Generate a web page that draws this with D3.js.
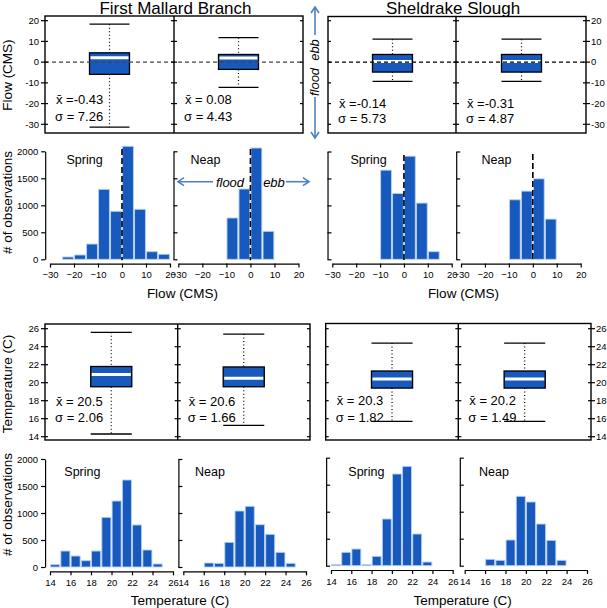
<!DOCTYPE html>
<html>
<head>
<meta charset="utf-8">
<script src="https://cdn.jsdelivr.net/npm/d3@7"></script>
<style>
body { margin: 0; background: #fff; }
svg { font-family: "Liberation Sans", Arial, sans-serif; }
</style>
</head>
<body>
<script>
// ---- data ----
const flowBins = [-25, -20, -15, -10, -5, 0, 5, 10, 15]   // bin starts, width 5
const fmbSpringFlow = [43, 80, 283, 1296, 889, 2093, 926, 141, 93]
const fmbNeapFlow = [0, 0, 0, 765, 1302, 2061, 518, 0, 0]
const ssSpringFlow = [0, 0, 0, 1654, 1222, 1913, 1043, 141, 0]
const ssNeapFlow = [0, 0, 0, 1104, 1265, 1493, 746, 0, 0]

const tempBins = [14, 15, 16, 17, 18, 19, 20, 21, 22, 23, 24] // bin starts, width 1
const fmbSpringTemp = [43, 296, 204, 117, 296, 920, 1222, 1611, 778, 315, 56]
const fmbNeapTemp = [0, 0, 74, 68, 457, 1037, 1124, 783, 605, 272, 68]
const ssSpringTemp = [22, 248, 309, 22, 174, 865, 1698, 1840, 587, 68, 0]
const ssNeapTemp = [0, 0, 118, 100, 476, 1285, 1180, 772, 470, 100, 0]

// boxplots: [lower whisker, q1, median, q3, upper whisker]
const fmbFlowBoxes = [[-31.4, -5.9, 2.1, 4.5, 18.3], [-12.2, -3.5, 2.0, 3.7, 11.8]]
const ssFlowBoxes = [[-9.3, -4.8, 0.3, 3.7, 11.1], [-9.3, -4.8, 0.3, 3.7, 11.1]]
const fmbTempBoxes = [[14.3, 19.55, 20.9, 21.8, 25.6], [15.25, 19.55, 20.5, 21.75, 25.4]]
const ssTempBoxes = [[15.7, 19.4, 20.4, 21.3, 24.4], [15.7, 19.4, 20.4, 21.3, 24.4]]

const fmbFlowMeans = [-0.43, 0.08], fmbFlowSd = [7.26, 4.43]
const ssFlowMeans = [-0.14, -0.31], ssFlowSd = [5.73, 4.87]
const fmbTempMeans = [20.5, 20.6], fmbTempSd = [2.06, 1.66]
const ssTempMeans = [20.3, 20.2], ssTempSd = [1.82, 1.49]

const flowTicks = [-30, -20, -10, 0, 10, 20]
const tempTicks = [14, 16, 18, 20, 22, 24, 26]
const countTicks = [0, 500, 1000, 1500, 2000]
const tideLabels = ["Spring", "Neap"]

const blue = "#1759bd"
const arrowBlue = "#4d80c4"

const svg = d3.select("body").append("svg").attr("width", 607).attr("height", 608)

// titles
svg.append("text").attr("x", 175.5).attr("y", 14).attr("text-anchor", "middle")
    .attr("font-size", 17).text("First Mallard Branch")
svg.append("text").attr("x", 453).attr("y", 14).attr("text-anchor", "middle")
    .attr("font-size", 17).text("Sheldrake Slough")

function vlabel(text, x, y) {
    svg.append("text").attr("transform", `translate(${x},${y}) rotate(-90)`)
        .attr("text-anchor", "middle").attr("font-size", 13.5).text(text)
}
function hlabel(text, x, y) {
    svg.append("text").attr("x", x).attr("y", y).attr("text-anchor", "middle")
        .attr("font-size", 13.5).text(text)
}

function fmtMean(m, digits) {
    return m < 0 ? "x\u0304 =" + m.toFixed(digits) : "x\u0304 = " + m.toFixed(digits)
}

// a pair of boxplot panels sharing a frame
function drawBoxPair(cfg) {
    const g = svg.append("g")
    const [x0, x1, x2] = cfg.edges
    const y = cfg.y
    const band = d3.scaleBand().domain([0, 1]).range([x0, x2]).paddingInner(0.69).paddingOuter(0.345)

    // boxes
    cfg.boxes.forEach((b, i) => {
        const bx = band(i), bw = band.bandwidth(), cx = bx + bw / 2
        g.append("line").attr("x1", cx).attr("x2", cx).attr("y1", y(b[4])).attr("y2", y(b[3]))
            .attr("stroke", "#000").attr("stroke-width", 1.2).attr("stroke-dasharray", "1,2.5")
        g.append("line").attr("x1", cx).attr("x2", cx).attr("y1", y(b[1])).attr("y2", y(b[0]))
            .attr("stroke", "#000").attr("stroke-width", 1.2).attr("stroke-dasharray", "1,2.5")
        g.selectAll(null).data([b[0], b[4]]).enter().append("line")
            .attr("x1", bx).attr("x2", bx + bw).attr("y1", d => y(d)).attr("y2", d => y(d))
            .attr("stroke", "#000").attr("stroke-width", 1.3)
        g.append("rect").attr("x", bx).attr("width", bw).attr("y", y(b[3]))
            .attr("height", y(b[1]) - y(b[3])).attr("fill", blue)
            .attr("stroke", "#000").attr("stroke-width", 1.3)
        g.append("line").attr("x1", bx + 1).attr("x2", bx + bw - 1).attr("y1", y(b[2])).attr("y2", y(b[2]))
            .attr("stroke", "#fff").attr("stroke-width", 3)
    })

    if (cfg.zero) {
        g.append("line").attr("x1", x0).attr("x2", x2).attr("y1", y(0)).attr("y2", y(0))
            .attr("stroke", cfg.zeroColor).attr("stroke-width", 1.3).attr("stroke-dasharray", "4,3")
    }

    // frame
    g.append("rect").attr("x", x0).attr("y", cfg.top).attr("width", x2 - x0).attr("height", cfg.bottom - cfg.top)
        .attr("fill", "none").attr("stroke", "#000").attr("stroke-width", 1.4)
    g.append("line").attr("x1", x1).attr("x2", x1).attr("y1", cfg.top).attr("y2", cfg.bottom)
        .attr("stroke", "#000").attr("stroke-width", 1.4)

    // ticks: labelled edge both ways, divider both ways, far edge inward
    const tickSets = cfg.labelSide === "left"
        ? [[x0, -4, 3], [x1, -3, 3], [x2, -3, 0]]
        : [[x0, 0, 3], [x1, -3, 3], [x2, -3, 4]]
    tickSets.forEach(([tx, a, b]) => {
        g.selectAll(null).data(cfg.ticks).enter().append("line")
            .attr("x1", tx + a).attr("x2", tx + b).attr("y1", d => y(d)).attr("y2", d => y(d))
            .attr("stroke", "#000").attr("stroke-width", 1.2)
    })
    g.selectAll(null).data(cfg.ticks).enter().append("text")
        .attr("x", cfg.labelSide === "left" ? x0 - 6 : x2 + 5)
        .attr("y", d => y(d)).attr("dy", "0.35em")
        .attr("text-anchor", cfg.labelSide === "left" ? "end" : "start")
        .attr("font-size", 9.5).text(d => d)

    // mean / sd annotations
    ;[x0, x1].forEach((px, i) => {
        g.append("text").attr("x", px + 11).attr("y", cfg.textY[0]).attr("font-size", 13)
            .text(fmtMean(cfg.means[i], cfg.digits))
        g.append("text").attr("x", px + 10).attr("y", cfg.textY[1]).attr("font-size", 13)
            .text("\u03c3 = " + cfg.sds[i].toFixed(2))
    })
}

// one histogram panel
function drawHist(cfg) {
    const g = svg.append("g")
    const x = d3.scaleLinear().domain(cfg.domain).range(cfg.xRange)
    const y = d3.scaleLinear().domain([0, 2000]).range([cfg.y0, cfg.y2000])
    const span = cfg.domain[1] - cfg.domain[0]
    const axisX = x(cfg.domain[0] - 0.04 * span)
    const axisY = y(-0.04 * 2000)

    const bars = cfg.bins.map((b, i) => ({ b: b, c: cfg.counts[i] })).filter(d => d.c > 0)
    g.selectAll("rect").data(bars).enter().append("rect")
        .attr("x", d => x(d.b) + 0.6)
        .attr("width", d => x(d.b + cfg.binWidth) - x(d.b) - 1.2)
        .attr("y", d => y(d.c))
        .attr("height", d => y(0) - y(d.c))
        .attr("fill", blue).attr("stroke", "#b7d1f2").attr("stroke-width", 0.9)

    if (cfg.dashTop) {
        g.append("line").attr("x1", x(0)).attr("x2", x(0)).attr("y1", cfg.dashTop).attr("y2", y(0) + 1)
            .attr("stroke", "#000").attr("stroke-width", 1.6).attr("stroke-dasharray", "6,3")
    }

    const xa = g.append("g").attr("transform", `translate(0,${axisY})`)
        .call(d3.axisBottom(x).tickValues(cfg.ticks).tickSize(4).tickSizeOuter(0).tickPadding(4))
    const yAxis = cfg.yLabels
        ? d3.axisLeft(y).tickValues(countTicks).tickSize(4).tickPadding(3).tickFormat(d3.format("d"))
        : d3.axisLeft(y).tickValues(countTicks).tickSize(-4).tickFormat("")
    const ya = g.append("g").attr("transform", `translate(${axisX},0)`).call(yAxis.tickSizeOuter(0))
    ;[xa, ya].forEach(a => {
        a.attr("font-family", null).attr("font-size", 9.5)
        a.selectAll("path, line").attr("stroke-width", 1.2)
    })

    g.append("text").attr("x", cfg.label[0]).attr("y", cfg.label[1]).attr("font-size", 12.5).text(cfg.name)
}

function arrowHead(x, y, dx, dy) {
    // open chevron pointing along (dx, dy)
    const px = -dy, py = dx
    svg.append("path")
        .attr("d", `M${x - dx * 6 + px * 4},${y - dy * 6 + py * 4}L${x},${y}L${x - dx * 6 - px * 4},${y - dy * 6 - py * 4}`)
        .attr("fill", "none").attr("stroke", arrowBlue).attr("stroke-width", 1.6)
}
function arrow(x1, y1, x2, y2) {
    svg.append("line").attr("x1", x1).attr("y1", y1).attr("x2", x2).attr("y2", y2)
        .attr("stroke", arrowBlue).attr("stroke-width", 1.6)
    const len = Math.hypot(x2 - x1, y2 - y1)
    arrowHead(x2, y2, (x2 - x1) / len, (y2 - y1) / len)
}

// ---- flow boxplots ----
const flowBoxY = d3.scaleLinear().domain([-30, 20]).range([124.3, 20.7])
drawBoxPair({ edges: [45, 174, 303], top: 16, bottom: 133, y: flowBoxY, ticks: flowTicks,
    labelSide: "left", boxes: fmbFlowBoxes, means: fmbFlowMeans, sds: fmbFlowSd, digits: 2,
    textY: [104, 120.5], zero: true, zeroColor: "#444" })
drawBoxPair({ edges: [328, 456, 586], top: 16.5, bottom: 133, y: flowBoxY, ticks: flowTicks,
    labelSide: "right", boxes: ssFlowBoxes, means: ssFlowMeans, sds: ssFlowSd, digits: 2,
    textY: [108, 123], zero: true, zeroColor: "#000" })

// ---- flow histograms ----
drawHist({ domain: [-30, 20], xRange: [50, 170], y0: 259.3, y2000: 151.3, bins: flowBins, binWidth: 5,
    counts: fmbSpringFlow, ticks: flowTicks, yLabels: true, dashTop: 149, name: tideLabels[0], label: [66.5, 164] })
drawHist({ domain: [-30, 20], xRange: [178.3, 298.5], y0: 259.3, y2000: 151.3, bins: flowBins, binWidth: 5,
    counts: fmbNeapFlow, ticks: flowTicks, yLabels: false, dashTop: 149, name: tideLabels[1], label: [190.5, 164] })
drawHist({ domain: [-30, 20], xRange: [332.3, 451.7], y0: 259.3, y2000: 151.5, bins: flowBins, binWidth: 5,
    counts: ssSpringFlow, ticks: flowTicks, yLabels: false, dashTop: 155, name: tideLabels[0], label: [350.5, 164] })
drawHist({ domain: [-30, 20], xRange: [461, 580.7], y0: 259.3, y2000: 151.5, bins: flowBins, binWidth: 5,
    counts: ssNeapFlow, ticks: flowTicks, yLabels: false, dashTop: 154, name: tideLabels[1], label: [481.5, 164] })

// ---- temperature boxplots ----
const tempBoxY = d3.scaleLinear().domain([14, 26]).range([436.7, 328.7])
drawBoxPair({ edges: [45, 177.7, 310], top: 324, bottom: 440, y: tempBoxY, ticks: tempTicks,
    labelSide: "left", boxes: fmbTempBoxes, means: fmbTempMeans, sds: fmbTempSd, digits: 1,
    textY: [406, 422], zero: false })
drawBoxPair({ edges: [325.7, 458.3, 591], top: 323.5, bottom: 440, y: tempBoxY, ticks: tempTicks,
    labelSide: "right", boxes: ssTempBoxes, means: ssTempMeans, sds: ssTempSd, digits: 1,
    textY: [405, 422], zero: false })

// ---- temperature histograms ----
drawHist({ domain: [14, 26], xRange: [50, 173], y0: 567, y2000: 459, bins: tempBins, binWidth: 1,
    counts: fmbSpringTemp, ticks: tempTicks, yLabels: true, name: tideLabels[0], label: [64.3, 476] })
drawHist({ domain: [14, 26], xRange: [183.3, 306], y0: 567, y2000: 459, bins: tempBins, binWidth: 1,
    counts: fmbNeapTemp, ticks: tempTicks, yLabels: false, name: tideLabels[1], label: [195, 476] })
drawHist({ domain: [14, 26], xRange: [331, 452.7], y0: 565.7, y2000: 457.7, bins: tempBins, binWidth: 1,
    counts: ssSpringTemp, ticks: tempTicks, yLabels: false, name: tideLabels[0], label: [348.3, 476] })
drawHist({ domain: [14, 26], xRange: [464.7, 587], y0: 565.7, y2000: 457.7, bins: tempBins, binWidth: 1,
    counts: ssNeapTemp, ticks: tempTicks, yLabels: false, name: tideLabels[1], label: [479, 476] })

// ---- axis titles ----
vlabel("Flow (CMS)", 12, 75)
vlabel("# of observations", 12, 202.5)
vlabel("Temperature (C)", 12, 384)
vlabel("# of observations", 12, 504.5)
hlabel("Flow (CMS)", 182.5, 298)
hlabel("Flow (CMS)", 463.5, 298)
hlabel("Temperature (C)", 180, 604.5)
hlabel("Temperature (C)", 462.7, 604.5)

// ---- ebb / flood guides ----
arrow(315, 35, 315, 7)
arrow(315, 97, 315, 138)
svg.append("text").attr("transform", "translate(319,50) rotate(-90)").attr("text-anchor", "middle")
    .attr("font-size", 13).attr("font-style", "italic").text("ebb")
svg.append("text").attr("transform", "translate(319,82) rotate(-90)").attr("text-anchor", "middle")
    .attr("font-size", 13).attr("font-style", "italic").text("flood")
arrow(213, 181.7, 178, 181.7)
arrow(286, 181.7, 309, 181.7)
svg.append("text").attr("x", 230).attr("y", 186.5).attr("text-anchor", "middle")
    .attr("font-size", 13).attr("font-style", "italic").text("flood")
svg.append("text").attr("x", 274).attr("y", 186.5).attr("text-anchor", "middle")
    .attr("font-size", 13).attr("font-style", "italic").text("ebb")
</script>
</body>
</html>
